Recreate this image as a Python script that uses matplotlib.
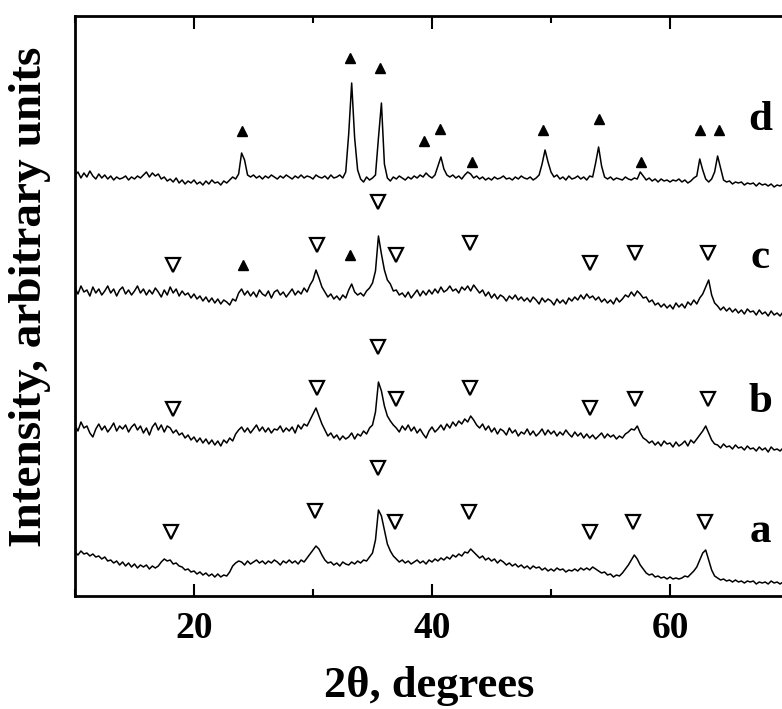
import numpy as np
import matplotlib
matplotlib.use("Agg")
import matplotlib.pyplot as plt
from matplotlib.ticker import MultipleLocator

plt.rcParams['font.family'] = ['Liberation Serif', 'DejaVu Serif']
plt.rcParams['font.weight'] = 'bold'

# scan angles, 0.25 deg step from 10 to 70
two_theta = np.linspace(10, 70, 241)

# intensities (arbitrary units, curves already offset)
pattern_d = [
    421, 424, 418, 423, 419, 425, 420, 417, 422, 418, 421, 417, 420, 416, 419, 417,
    418, 420, 416, 419, 417, 420, 418, 421, 424, 419, 423, 420, 422, 417, 419, 415,
    417, 414, 418, 413, 416, 412, 415, 413, 416, 412, 414, 411, 415, 412, 416, 413,
    414, 411, 415, 413, 416, 419, 417, 422, 443, 436, 421, 419, 421, 418, 420, 417,
    420, 418, 421, 419, 417, 420, 418, 421, 419, 417, 420, 418, 421, 418, 420, 419,
    417, 421, 419, 418, 420, 417, 421, 418, 419, 421, 418, 424, 462, 513, 458, 426,
    417, 414, 419, 416, 418, 421, 458, 493, 432, 418, 415, 419, 417, 420, 418, 416,
    419, 417, 420, 418, 421, 419, 423, 420, 418, 421, 430, 439, 427, 421, 419, 421,
    418, 420, 417, 421, 424, 422, 418, 420, 417, 419, 416, 418, 416, 419, 417, 418,
    420, 417, 418, 416, 419, 417, 420, 418, 417, 419, 416, 418, 421, 432, 446, 434,
    424, 419, 421, 417, 419, 416, 420, 417, 418, 420, 417, 419, 416, 420, 419, 433,
    449, 430, 419, 417, 419, 416, 418, 417, 416, 419, 417, 416, 418, 417, 424, 420,
    416, 418, 415, 417, 414, 417, 415, 416, 414, 416, 415, 417, 414, 416, 413, 415,
    418, 420, 437, 426, 417, 414, 417, 424, 440, 428, 416, 414, 415, 412, 414, 413,
    414, 411, 413, 412, 413, 410, 413, 411, 412, 410, 412, 409, 411, 410, 412, 409,
    410,
]
pattern_c = [
    308, 302, 310, 304, 306, 300, 309, 303, 307, 301, 305, 310, 303, 307, 300, 306,
    309, 302, 306, 301, 305, 310, 303, 307, 301, 306, 302, 308, 304, 299, 306, 301,
    309, 303, 307, 300, 305, 301, 303, 298, 302, 297, 300, 295, 299, 294, 298, 293,
    297, 292, 296, 294, 291, 297, 295, 303, 307, 301, 305, 300, 304, 299, 306, 302,
    300, 305, 298, 304, 306, 301, 304, 299, 303, 307, 301, 305, 302, 308, 304, 311,
    316, 326, 318, 309, 304, 299, 302, 297, 300, 296, 301, 298, 306, 312, 304, 301,
    303, 300, 305, 308, 313, 325, 360, 342, 326, 316, 312, 305, 306, 301, 303, 299,
    304, 298, 302, 306, 300, 305, 301, 306, 302, 307, 303, 309, 304, 306, 310, 305,
    307, 303, 309, 306, 310, 305, 311, 307, 303, 306, 300, 304, 298, 302, 297, 301,
    299, 295, 300, 297, 301, 296, 299, 295, 298, 294, 299, 296, 292, 298, 294, 297,
    295, 291, 297, 293, 296, 292, 298, 295, 299, 296, 301, 297, 302, 298, 300, 296,
    299, 294, 297, 293, 296, 292, 298, 294, 297, 301, 299, 304, 300, 305, 302, 298,
    299, 294, 296, 291, 293, 289, 292, 288, 291, 287, 293, 289, 292, 288, 294, 291,
    296, 292, 298, 302, 309, 316, 301, 293, 290, 286, 289, 285, 288, 284, 287, 283,
    286, 282, 287, 284, 285, 281, 286, 282, 284, 280, 285, 281, 283, 280, 284, 281,
    282,
]
pattern_b = [
    171, 165, 174, 168, 170, 163, 159, 167, 172, 166, 170, 164, 168, 173, 165, 170,
    167, 171, 164, 169, 172, 166, 170, 163, 168, 161, 169, 173, 166, 171, 164, 170,
    168, 163, 166, 161, 163, 158, 161, 156, 159, 154, 158, 153, 157, 152, 156, 151,
    155, 150, 156, 153, 158, 155, 162, 166, 169, 164, 168, 163, 167, 171, 165, 169,
    164, 168, 163, 167, 166, 170, 164, 168, 165, 169, 163, 171, 167, 172, 170, 176,
    182, 188, 180, 172, 166, 160, 163, 158, 161, 156, 160, 157, 159, 163, 157, 162,
    160, 165, 162, 168, 171, 184, 214, 205, 190, 180, 175, 171, 168, 164, 170, 166,
    171, 165, 169, 163, 167, 162, 158, 165, 169, 164, 167, 171, 166, 172, 168, 174,
    170, 175, 172, 177, 174, 180, 176, 171, 168, 172, 166, 170, 164, 168, 162, 167,
    165, 161, 168, 163, 166, 160, 164, 162, 167, 161, 165, 160, 163, 167, 161, 166,
    162, 165, 160, 164, 161, 166, 162, 159, 164, 160, 163, 158, 162, 158, 161, 157,
    160, 163, 158, 162, 159, 161, 157, 160, 158, 162, 164, 167, 166, 170, 163, 158,
    156, 153, 155, 151, 154, 150, 155, 152, 153, 149, 154, 150, 152, 155, 150, 156,
    153, 157, 161, 165, 170, 163, 156, 152, 151, 148, 152, 149, 150, 147, 151, 148,
    149, 146, 150, 147, 148, 145, 149, 146, 148, 144, 149, 146, 147, 145, 148, 146,
    147,
]
pattern_a = [
    44, 41, 45, 42, 43, 40, 42, 39, 40, 37, 39, 35, 36, 33, 35, 31,
    34, 30, 33, 29, 32, 28, 31, 29, 31, 27, 30, 28, 30, 34, 37, 35,
    36, 32, 33, 30, 29, 26, 27, 24, 25, 22, 24, 21, 23, 20, 22, 19,
    22, 19, 21, 20, 24, 30, 33, 35, 34, 31, 35, 32, 34, 36, 33, 35,
    32, 35, 33, 36, 34, 31, 35, 33, 36, 33, 35, 32, 36, 34, 38, 42,
    46, 50, 47, 41, 36, 33, 34, 31, 33, 30, 34, 32, 31, 34, 32, 35,
    33, 36, 35, 39, 43, 56, 86, 80, 66, 52, 45, 40, 37, 34, 36, 33,
    35, 32, 34, 36, 33, 35, 32, 36, 34, 37, 35, 38, 36, 39, 37, 41,
    39, 42, 40, 44, 43, 47, 44, 41, 38, 40, 36, 38, 35, 37, 33, 36,
    34, 31, 33, 30, 32, 29, 31, 28, 30, 27, 30, 28, 29, 26, 28, 25,
    27, 25, 28, 26, 27, 24, 26, 25, 27, 25, 28, 26, 28, 26, 29, 27,
    25, 23, 24, 21, 22, 19, 21, 20, 23, 27, 31, 36, 41, 37, 31, 27,
    23, 21, 22, 19, 20, 18, 19, 17, 19, 17, 18, 17, 18, 20, 19, 22,
    25, 29, 36, 43, 46, 36, 26, 20, 18, 16, 17, 15, 16, 14, 16, 14,
    15, 13, 15, 14, 15, 12, 14, 13, 14, 12, 15, 13, 14, 12, 14, 13,
    13,
]
patterns = {'a': pattern_a, 'b': pattern_b, 'c': pattern_c, 'd': pattern_d}

# open triangles (spinel phase) and filled triangles (hematite)
open_pos = {
    'a': ([18.1, 30.2, 35.5, 36.9, 43.1, 53.3, 56.9, 62.9], [64, 85, 128, 74, 84, 64, 74, 74]),
    'b': ([18.2, 30.3, 35.5, 37.0, 43.2, 53.3, 57.1, 63.2], [187, 208, 249, 197, 208, 188, 197, 197]),
    'c': ([18.2, 30.3, 35.5, 37.0, 43.2, 53.3, 57.1, 63.2], [331, 351, 394, 341, 353, 333, 343, 343]),
}
filled_pos = {
    'c': ([24.1, 33.1], [331, 341]),
    'd': ([24.0, 33.1, 35.6, 39.3, 40.7, 43.4, 49.3, 54.0, 57.6, 62.5, 64.1],
          [465, 538, 528, 455, 467, 434, 466, 477, 434, 466, 466]),
}
label_x = 67.6
label_y = {'a': 64, 'b': 194, 'c': 338, 'd': 476}

fig = plt.figure(figsize=(7.82, 7.09), dpi=100)
ax = fig.add_axes([75/782, 113/709, 714/782, 580/709])

for k, ys in patterns.items():
    ax.plot(two_theta, ys, color='black', lw=1.1)
for k, (xs, ys) in open_pos.items():
    ax.plot(xs, ys, 'v', ms=10, mfc='white', mec='black', mew=1.6, ls='none')
for k, (xs, ys) in filled_pos.items():
    ax.plot(xs, ys, '^', ms=7.5, color='black', ls='none')
for k, y in label_y.items():
    ax.text(label_x, y, k, fontsize=31, fontweight='bold', ha='center', va='center')

ax.set_xlim(10, 70)
ax.set_ylim(0, 580)
ax.set_xticks([20, 40, 60])
ax.xaxis.set_minor_locator(MultipleLocator(10))
ax.set_yticks([])
ax.tick_params(axis='x', which='major', direction='in', top=True, length=9, width=1.5,
               labelsize=27, pad=11)
ax.tick_params(axis='x', which='minor', direction='in', top=True, length=5, width=1.5)
for lab in ax.get_xticklabels():
    lab.set_fontweight('bold')
for s in ax.spines.values():
    s.set_linewidth(2)

fig.text(30/782, 1 - 297/709, 'Intensity, arbitrary units', rotation=90,
         fontsize=34, fontweight='bold', ha='center', va='center')
fig.text(429/782, 1 - 686/709, '2θ, degrees', fontsize=32, fontweight='bold',
         ha='center', va='center')

fig.savefig('out.png', dpi=100)
